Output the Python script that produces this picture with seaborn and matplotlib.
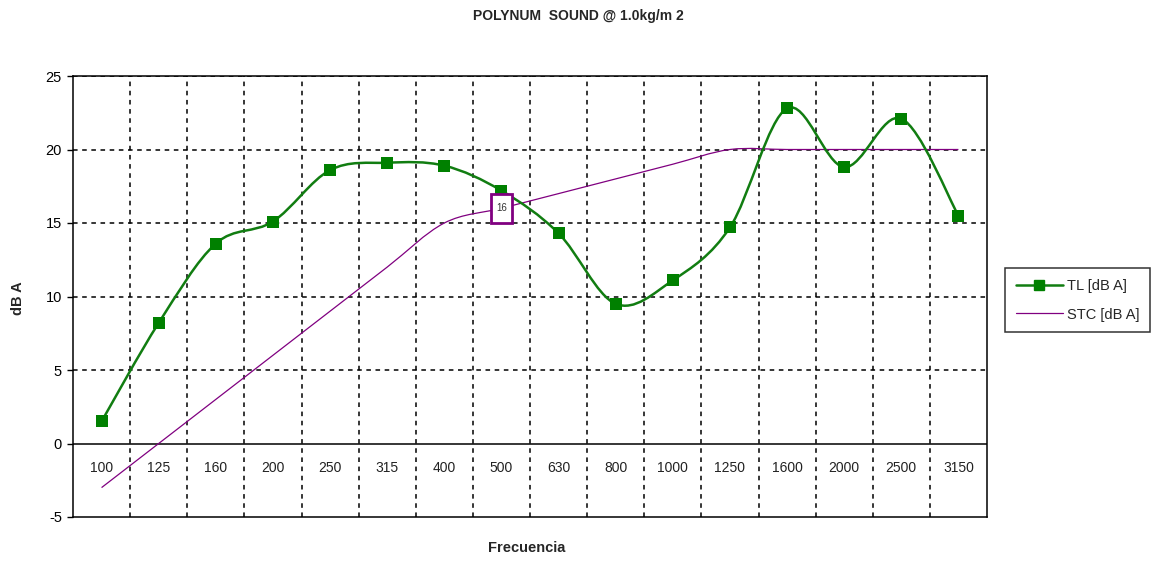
import numpy as np
import pandas as pd
import matplotlib
matplotlib.use("Agg")
import matplotlib.pyplot as plt
import seaborn as sns
from matplotlib.path import Path
from matplotlib.patches import PathPatch, Rectangle
from matplotlib.lines import Line2D

# === data ===
frecuencias = ["100", "125", "160", "200", "250", "315", "400", "500",
               "630", "800", "1000", "1250", "1600", "2000", "2500", "3150"]
tl_dba = [1.5, 8.2, 13.6, 15.1, 18.6, 19.1, 18.9, 17.2,
          14.3, 9.5, 11.1, 14.7, 22.8, 18.8, 22.1, 15.5]
stc_dba = [-3, 0, 3, 6, 9, 12, 15, 16, 17, 18, 19, 20, 20, 20, 20, 20]
stc_label_idx = 7  # the "16" tag sits on the 500 Hz point

df = pd.DataFrame({"x": np.arange(len(frecuencias)), "freq": frecuencias,
                   "TL": tl_dba, "STC": stc_dba})

sns.set_theme(style="white")
plt.rcParams["font.family"] = ["Liberation Sans", "DejaVu Sans"]
plt.rcParams["axes.unicode_minus"] = False

green = "#117d11"
purple = "#800080"


def smooth_path(xs, ys):
    # excel style "smoothed line": cubic bezier through every point
    pts = np.column_stack([xs, ys]).astype(float)
    n = len(pts)
    verts = [pts[0]]
    codes = [Path.MOVETO]
    for i in range(n - 1):
        p0 = pts[i - 1] if i > 0 else pts[i]
        p1, p2 = pts[i], pts[i + 1]
        p3 = pts[i + 2] if i + 2 < n else pts[i + 1]
        c1 = p1 + (p2 - p0) / 6.0
        c2 = p2 - (p3 - p1) / 6.0
        verts += [c1, c2, p2]
        codes += [Path.CURVE4] * 3
    return Path(verts, codes)


fig = plt.figure(figsize=(11.58, 5.63), dpi=100)
ax = fig.add_axes([73 / 1158, 1 - 517 / 563, (987 - 73) / 1158, (517 - 76) / 563])

# grid
for xb in np.arange(0.5, len(frecuencias) - 1, 1.0):
    ax.axvline(xb, color="black", lw=1.1, ls=(0, (3, 3)), zorder=1)
for yv in [5, 10, 15, 20, 25]:
    ax.axhline(yv, color="black", lw=1.1, ls=(0, (3, 3)), zorder=1)
ax.axhline(0, color="black", lw=1.1, zorder=2)

# curves
ax.add_patch(PathPatch(smooth_path(df["x"], df["STC"]), fill=False,
                       edgecolor=purple, lw=0.9, zorder=3))
ax.add_patch(PathPatch(smooth_path(df["x"], df["TL"]), fill=False,
                       edgecolor=green, lw=1.8, zorder=4))
sns.scatterplot(data=df, x="x", y="TL", marker="s", s=80, color="#008000",
                edgecolor="#008000", linewidth=0, zorder=5, ax=ax, legend=False)

# "16" tag on the STC curve
xi, yi = df["x"][stc_label_idx], df["STC"][stc_label_idx]
ax.add_patch(Rectangle((xi - 0.19, yi - 1.0), 0.38, 2.0, facecolor="white",
                       edgecolor=purple, lw=2, zorder=6))
ax.text(xi, yi, str(stc_dba[stc_label_idx]), ha="center", va="center",
        fontsize=7, color="#333333", zorder=7)

# category labels under the zero line
for i, f in enumerate(frecuencias):
    ax.text(i, -1.7, f, ha="center", va="center", fontsize=10, color="#222222")

ax.set_xlim(-0.5, len(frecuencias) - 0.5)
ax.set_ylim(-5, 25)
ax.set_xticks([])
ax.set_yticks(range(-5, 26, 5))
ax.tick_params(axis="y", labelsize=10.5, length=4, width=1, direction="out",
               left=True, colors="black", pad=4)
for side in ["left", "bottom", "right", "top"]:
    ax.spines[side].set_visible(True)
    ax.spines[side].set_color("black")
    ax.spines[side].set_linewidth(1.1)
ax.set_xlabel("")
ax.set_ylabel("")

fig.text(578 / 1158, 1 - 16 / 563, "POLYNUM  SOUND @ 1.0kg/m 2", ha="center",
         va="center", fontsize=10, fontweight="bold")
fig.text(527 / 1158, 1 - 548 / 563, "Frecuencia", ha="center", va="center",
         fontsize=10.5, fontweight="bold")
fig.text(18 / 1158, 1 - 298 / 563, "dB A", ha="center", va="center",
         rotation=90, fontsize=10.5, fontweight="bold")

handles = [Line2D([], [], color=green, lw=1.8, marker="s", markersize=7,
                  markerfacecolor="#008000", markeredgecolor="#008000"),
           Line2D([], [], color=purple, lw=0.9)]
leg = fig.legend(handles, ["TL [dB A]", "STC [dB A]"], loc="upper left",
                 bbox_to_anchor=(1005 / 1158, 1 - 268 / 563), frameon=True,
                 fancybox=False, edgecolor="black", fontsize=10.5,
                 handlelength=3.2, handletextpad=0.3, borderpad=0.75,
                 labelspacing=1.0, borderaxespad=0)
leg.get_frame().set_linewidth(1.1)

fig.savefig("out.png", dpi=100)
